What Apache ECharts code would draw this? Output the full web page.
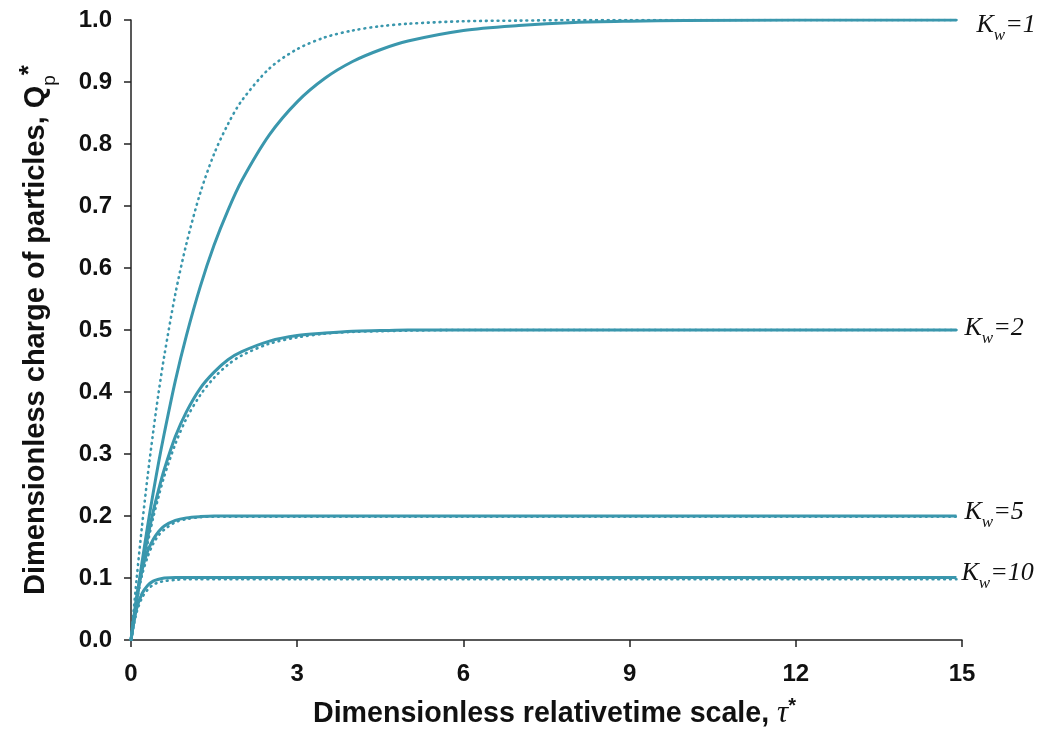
<!DOCTYPE html>
<html>
<head>
<meta charset="utf-8">
<script src="https://cdn.jsdelivr.net/npm/echarts@6/dist/echarts.min.js"></script>
<style>html,body{margin:0;padding:0;background:#fff}#c{width:1045px;height:740px}</style>
</head>
<body>
<div id="c"></div>
<script>
var tau = [0, 0.1, 0.2, 0.3, 0.4, 0.5, 0.6, 0.8, 1.0, 1.25, 1.5, 1.75, 2.0, 2.5, 3.0, 3.5, 4.0, 4.5, 5.0, 6.0, 7.0, 8.0, 9.0, 10.0, 12.0, 14.9];
var solidK1  = [0, 0.065, 0.126, 0.184, 0.237, 0.287, 0.333, 0.418, 0.491, 0.570, 0.637, 0.693, 0.741, 0.815, 0.868, 0.906, 0.933, 0.952, 0.966, 0.983, 0.991, 0.996, 0.998, 0.999, 1.0, 1.0];
var dottedK1 = [0, 0.097, 0.185, 0.264, 0.335, 0.400, 0.458, 0.558, 0.639, 0.721, 0.784, 0.832, 0.870, 0.922, 0.953, 0.972, 0.983, 0.990, 0.994, 0.998, 0.999, 1.0, 1.0, 1.0, 1.0, 1.0];
var solidK2  = [0, 0.062, 0.117, 0.165, 0.207, 0.243, 0.275, 0.328, 0.368, 0.406, 0.432, 0.452, 0.465, 0.482, 0.491, 0.495, 0.498, 0.499, 0.5, 0.5, 0.5, 0.5, 0.5, 0.5, 0.5, 0.5];
var dottedK2 = [0, 0.059, 0.111, 0.156, 0.197, 0.232, 0.264, 0.316, 0.357, 0.395, 0.423, 0.444, 0.459, 0.478, 0.488, 0.494, 0.497, 0.498, 0.499, 0.5, 0.5, 0.5, 0.5, 0.5, 0.5, 0.5];
var solidK5  = [0, 0.068, 0.113, 0.143, 0.162, 0.175, 0.184, 0.193, 0.197, 0.199, 0.2, 0.2, 0.2, 0.2, 0.2, 0.2, 0.2, 0.2, 0.2, 0.2, 0.2, 0.2, 0.2, 0.2, 0.2, 0.2];
var dottedK5 = [0, 0.062, 0.105, 0.134, 0.155, 0.169, 0.178, 0.190, 0.195, 0.198, 0.199, 0.199, 0.199, 0.199, 0.199, 0.199, 0.199, 0.199, 0.199, 0.199, 0.199, 0.199, 0.199, 0.199, 0.199, 0.199];
var solidK10  = [0, 0.050, 0.075, 0.088, 0.095, 0.098, 0.100, 0.101, 0.101, 0.101, 0.101, 0.101, 0.101, 0.101, 0.101, 0.101, 0.101, 0.101, 0.101, 0.101, 0.101, 0.101, 0.101, 0.101, 0.101, 0.101];
var dottedK10 = [0, 0.044, 0.068, 0.081, 0.089, 0.093, 0.095, 0.097, 0.098, 0.098, 0.098, 0.098, 0.098, 0.098, 0.098, 0.098, 0.098, 0.098, 0.098, 0.098, 0.098, 0.098, 0.098, 0.098, 0.098, 0.098];
var kwLabels = ['1', '2', '5', '10'];
var xTicks = [0, 3, 6, 9, 12, 15];

var color = '#3a97ad';
function pairs(v){ return tau.map(function(t,i){ return [t, v[i]]; }); }
var kRich = {
  k: {fontFamily: 'Liberation Serif', fontStyle: 'italic', fontSize: 26, color: '#111', lineHeight: 34},
  w: {fontFamily: 'Liberation Serif', fontStyle: 'italic', fontSize: 17, color: '#111', lineHeight: 34, verticalAlign: 'bottom', padding: [0, 0, -2, 0]},
  e: {fontFamily: 'Liberation Serif', fontStyle: 'italic', fontSize: 26, color: '#111', lineHeight: 34}
};
function solid(v, lab, dist, off){
  return {type: 'line', data: pairs(v), smooth: 0.3, showSymbol: false, symbol: 'none', z: 3,
    lineStyle: {color: color, width: 3}, itemStyle: {color: color},
    endLabel: {show: true, formatter: '{k|K}{w|w}{e|=' + lab + '}', distance: dist, offset: off, rich: kRich}};
}
function dotted(v){
  return {type: 'line', data: pairs(v), smooth: 0.3, showSymbol: false, symbol: 'none', z: 2,
    lineStyle: {color: color, width: 2.6, type: [0.8, 5], cap: 'round'}, itemStyle: {color: color}};
}
var chart = echarts.init(document.getElementById('c'));
chart.setOption({
  animation: false,
  grid: {left: 131, right: 83, top: 20, bottom: 100},
  xAxis: {
    type: 'value', min: 0, max: 15, interval: 3,
    name: '{a|Dimensionless relativetime scale, }{t|τ}{s|*}',
    nameLocation: 'middle', nameGap: 56,
    nameTextStyle: {padding: [0, 0, 0, 16], rich: {
      a: {fontFamily: 'Liberation Sans', fontWeight: 'bold', fontSize: 28.6, color: '#111', lineHeight: 36},
      t: {fontFamily: 'Liberation Serif', fontStyle: 'italic', fontSize: 31, color: '#111', lineHeight: 36},
      s: {fontFamily: 'Liberation Sans', fontWeight: 'bold', fontSize: 20, color: '#111', lineHeight: 36, verticalAlign: 'top'}
    }},
    axisLine: {lineStyle: {color: '#222', width: 1.5}},
    axisTick: {show: true, inside: false, length: 7, lineStyle: {color: '#222', width: 1.5}},
    axisLabel: {margin: 22, fontFamily: 'Liberation Sans', fontWeight: 'bold', fontSize: 24, color: '#111',
      formatter: function(v){ return xTicks.indexOf(v) >= 0 ? String(v) : ''; }},
    splitLine: {show: false}
  },
  yAxis: {
    type: 'value', min: 0, max: 1, interval: 0.1,
    name: '{a|Dimensionless charge of particles, Q}{p|p}{s|*}',
    nameLocation: 'middle', nameGap: 76, nameRotate: 90,
    nameTextStyle: {rich: {
      a: {fontFamily: 'Liberation Sans', fontWeight: 'bold', fontSize: 29, color: '#111', lineHeight: 38},
      p: {fontFamily: 'Liberation Sans', fontWeight: 'normal', fontSize: 19, color: '#111', lineHeight: 38, verticalAlign: 'bottom', padding: [0, 0, -4, 0]},
      s: {fontFamily: 'Liberation Sans', fontWeight: 'bold', fontSize: 26, color: '#111', lineHeight: 38, verticalAlign: 'top'}
    }},
    axisLine: {show: true, lineStyle: {color: '#222', width: 1.5}},
    axisTick: {show: true, inside: false, length: 7, lineStyle: {color: '#222', width: 1.5}},
    axisLabel: {margin: 19, fontFamily: 'Liberation Sans', fontWeight: 'bold', fontSize: 24, color: '#111',
      formatter: function(v){ return v.toFixed(1); }},
    splitLine: {show: false}
  },
  series: [
    dotted(dottedK1), dotted(dottedK2), dotted(dottedK5), dotted(dottedK10),
    solid(solidK1, kwLabels[0], 20, [0, 5]),
    solid(solidK2, kwLabels[1], 8, [0, -2]),
    solid(solidK5, kwLabels[2], 8, [0, -4]),
    solid(solidK10, kwLabels[3], 5, [0, -4])
  ]
});
</script>
</body>
</html>
